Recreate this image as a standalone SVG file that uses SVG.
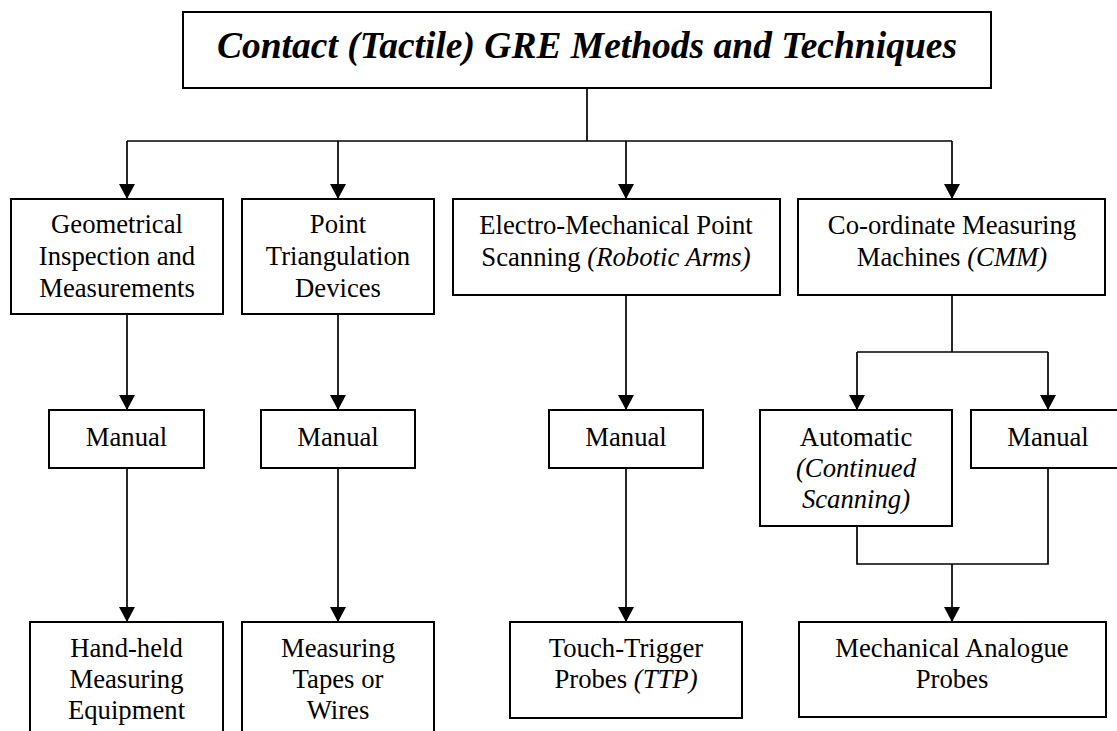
<svg xmlns="http://www.w3.org/2000/svg" width="1117" height="731" viewBox="0 0 1117 731">
<style>
.box{fill:#fff;stroke:#000;stroke-width:2}
.ln{fill:none;stroke:#000;stroke-width:1.7}
text{font-size:26.7px;fill:#000;text-anchor:middle}
.it{font-style:italic}
.title{font-size:37.5px;font-weight:bold;font-style:italic}
</style>
<defs>
<marker id="ah" viewBox="0 0 15 16" refX="15" refY="8" markerWidth="15" markerHeight="16" markerUnits="userSpaceOnUse" orient="auto">
<path d="M0,0 L15,8 L0,16 z" fill="#000"/>
</marker>
</defs>
<rect width="1117" height="731" fill="#fff"/>
<g id="connectors">
<path class="ln" d="M587,88 V141"/>
<path class="ln" d="M127,141 H952"/>
<path class="ln" d="M127,141 V199" marker-end="url(#ah)"/>
<path class="ln" d="M338,141 V199" marker-end="url(#ah)"/>
<path class="ln" d="M626,141 V199" marker-end="url(#ah)"/>
<path class="ln" d="M952,141 V199" marker-end="url(#ah)"/>
<path class="ln" d="M127,314 V410" marker-end="url(#ah)"/>
<path class="ln" d="M338,314 V410" marker-end="url(#ah)"/>
<path class="ln" d="M626,295 V410" marker-end="url(#ah)"/>
<path class="ln" d="M952,295 V352"/>
<path class="ln" d="M857,352 H1048"/>
<path class="ln" d="M857,352 V410" marker-end="url(#ah)"/>
<path class="ln" d="M1048,352 V410" marker-end="url(#ah)"/>
<path class="ln" d="M127,468 V622" marker-end="url(#ah)"/>
<path class="ln" d="M338,468 V622" marker-end="url(#ah)"/>
<path class="ln" d="M626,468 V622" marker-end="url(#ah)"/>
<path class="ln" d="M857,526 V564 H1048 V468"/>
<path class="ln" d="M952,564 V622" marker-end="url(#ah)"/>
</g>
<g font-family="Liberation Serif, Times New Roman, DejaVu Serif, serif">
<g id="title">
<rect class="box" x="183" y="12" width="808" height="76"/>
<text class="title" x="587" y="58">Contact (Tactile) GRE Methods and Techniques</text>
</g>
<g id="geometrical">
<rect class="box" x="11" y="199" width="212" height="115"/>
<text x="117" y="233">Geometrical</text>
<text x="117" y="265">Inspection and</text>
<text x="117" y="297">Measurements</text>
</g>
<g id="point-triangulation">
<rect class="box" x="242" y="199" width="192" height="115"/>
<text x="338" y="233">Point</text>
<text x="338" y="265">Triangulation</text>
<text x="338" y="297">Devices</text>
</g>
<g id="electro-mechanical">
<rect class="box" x="453" y="199" width="327" height="96"/>
<text x="616" y="234">Electro-Mechanical Point</text>
<text x="616" y="266">Scanning <tspan class="it">(Robotic Arms)</tspan></text>
</g>
<g id="cmm">
<rect class="box" x="798" y="199" width="307" height="96"/>
<text x="952" y="234">Co-ordinate Measuring</text>
<text x="952" y="266">Machines <tspan class="it">(CMM)</tspan></text>
</g>
<g id="manual-1">
<rect class="box" x="49" y="410" width="155" height="58"/>
<text x="126.5" y="446">Manual</text>
</g>
<g id="manual-2">
<rect class="box" x="261" y="410" width="154" height="58"/>
<text x="338" y="446">Manual</text>
</g>
<g id="manual-3">
<rect class="box" x="549" y="410" width="154" height="58"/>
<text x="626" y="446">Manual</text>
</g>
<g id="automatic">
<rect class="box" x="760" y="410" width="192" height="116"/>
<text x="856" y="446">Automatic</text>
<text class="it" x="856" y="477">(Continued</text>
<text class="it" x="856" y="508">Scanning)</text>
</g>
<g id="manual-4">
<rect class="box" x="971" y="410" width="160" height="58"/>
<text x="1048" y="446">Manual</text>
</g>
<g id="hand-held">
<rect class="box" x="30" y="622" width="193" height="120"/>
<text x="126.5" y="657">Hand-held</text>
<text x="126.5" y="688">Measuring</text>
<text x="126.5" y="719">Equipment</text>
</g>
<g id="tapes">
<rect class="box" x="242" y="622" width="192" height="120"/>
<text x="338" y="657">Measuring</text>
<text x="338" y="688">Tapes or</text>
<text x="338" y="719">Wires</text>
</g>
<g id="touch-trigger">
<rect class="box" x="510" y="622" width="232" height="96"/>
<text x="626" y="657">Touch-Trigger</text>
<text x="626" y="688">Probes <tspan class="it">(TTP)</tspan></text>
</g>
<g id="analogue">
<rect class="box" x="799" y="622" width="307" height="95"/>
<text x="952" y="657">Mechanical Analogue</text>
<text x="952" y="688">Probes</text>
</g>
</g>
</svg>
